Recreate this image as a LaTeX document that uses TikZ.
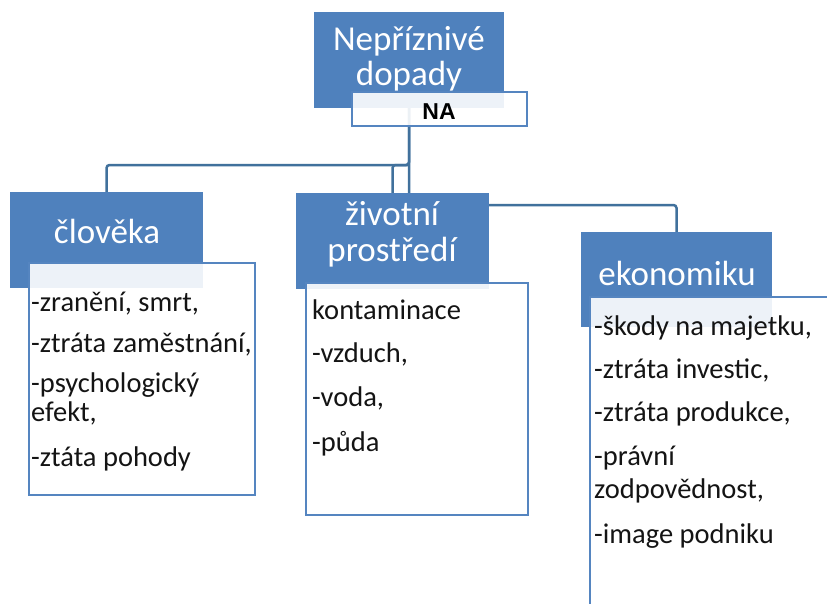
\documentclass[tikz,border=0pt]{standalone}
\usepackage{fontspec}
\usetikzlibrary{calc}
\setmainfont{Carlito}
\newfontfamily\nafont{Liberation Sans}
\definecolor{boxblue}{HTML}{4F81BD}
\definecolor{lineblue}{HTML}{41719C}
\definecolor{edgeblue}{HTML}{5585C0}
\definecolor{txt}{HTML}{141414}
\begin{document}
\begin{tikzpicture}[x=1pt,y=-1pt,
 bluebox/.style={fill=boxblue,draw=none,inner sep=0pt,outer sep=0pt,anchor=north west},
 whitebox/.style={fill=white,fill opacity=0.9,draw=edgeblue,line width=2.4pt,inner sep=0pt,outer sep=0pt,anchor=north west},
 head/.style={text=white,font=\fontsize{35}{35}\selectfont,anchor=base,inner sep=0pt},
 item/.style={text=txt,font=\fontsize{28.5}{28.5}\selectfont,anchor=base west,inner sep=0pt},
 conn/.style={draw=lineblue,line width=2.5pt,rounded corners=3pt}]
\clip (0,0) rectangle (827,603);
\fill[white] (0,0) rectangle (827,603);

% blue boxes
\node[bluebox,minimum width=190pt,minimum height=96pt] (top) at (314,12) {};
\node[bluebox,minimum width=193pt,minimum height=96pt] (lb) at (10,192) {};
\node[bluebox,minimum width=193pt,minimum height=96pt] (mb) at (296,193) {};
\node[bluebox,minimum width=191pt,minimum height=95pt] (rb) at (581,232) {};

% connectors
\coordinate (jn) at ($(top.south)+(0,57)$);
\draw[conn] (top.south) -- (jn) -| (lb.north);
\draw[conn] (jn) -| (mb.north);
\draw[conn] (top.south) |- ($(rb.north)+(0,-27)$) -- (rb.north);

% redraw blue boxes over connectors
\fill[boxblue] (top.north west) rectangle (top.south east);
\fill[boxblue] (lb.north west) rectangle (lb.south east);
\fill[boxblue] (mb.north west) rectangle (mb.south east);
\fill[boxblue] (rb.north west) rectangle (rb.south east);

% white boxes
\node[whitebox,minimum width=175pt,minimum height=34pt] (na) at (352,92) {};
\node[whitebox,minimum width=226pt,minimum height=232pt] (lw) at (29,263) {};
\node[whitebox,minimum width=222pt,minimum height=232pt] (mw) at (306,283) {};
\node[whitebox,minimum width=300pt,minimum height=400pt] (rw) at (590,297) {};

% headings
\node[head] (t1) at (409,50) {Nepříznivé};
\node[head] (t2) at (409,85) {dopady};
\node[text=black,font=\nafont\bfseries\fontsize{23}{23}\selectfont,anchor=base,inner sep=0pt] (natext) at (439,119) {NA};
\node[head] (l1) at (107,243) {člověka};
\node[head] (m1) at (392,225) {životní};
\node[head] (m2) at (392,261) {prostředí};
\node[head] (r1) at (677,285) {ekonomiku};

% left items
\node[item] (la) at (31,311) {-zranění, smrt,};
\node[item] (lbb) at (31,352) {-ztráta zaměstnání,};
\node[item] (lc) at (31,392) {-psychologický};
\node[item] (ld) at (31,421) {efekt,};
\node[item] (le) at (31,466) {-ztáta pohody};

% middle items
\node[item] (ma) at (312,319) {kontaminace};
\node[item] (mbb) at (312,362) {-vzduch,};
\node[item] (mc) at (312,406) {-voda,};
\node[item] (md) at (312,451) {-půda};

% right items
\node[item] (ra) at (594,335) {-škody na majetku,};
\node[item] (rbb) at (594,378) {-ztráta investic,};
\node[item] (rc) at (594,421) {-ztráta produkce,};
\node[item] (rd) at (594,465) {-právní};
\node[item] (re) at (594,498) {zodpovědnost,};
\node[item] (rf) at (594,543) {-image podniku};
\end{tikzpicture}
\end{document}
